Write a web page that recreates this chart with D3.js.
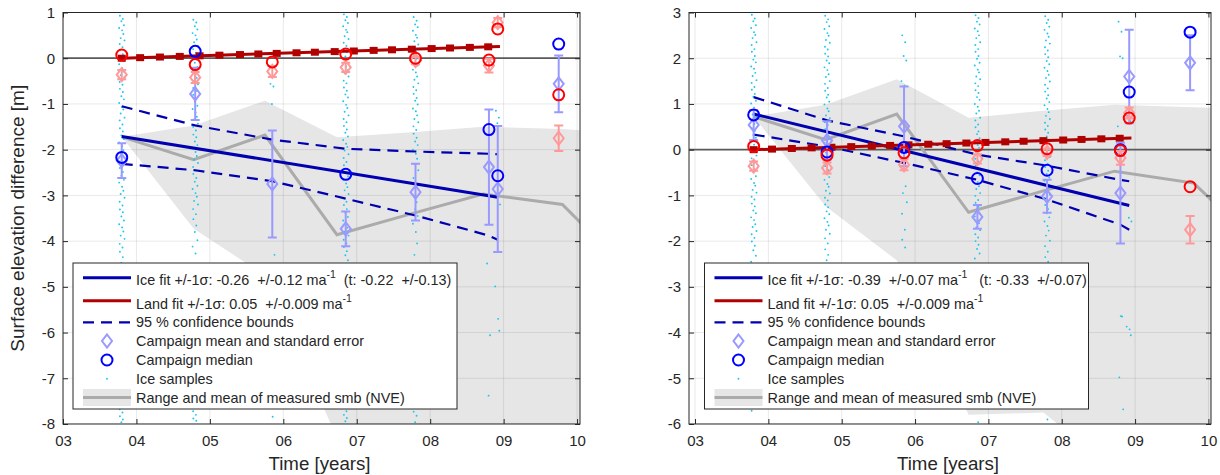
<!DOCTYPE html>
<html><head><meta charset="utf-8">
<script src="https://cdn.jsdelivr.net/npm/d3@7"></script>
<style>
body{margin:0;background:#fff;}
svg text{font-family:"Liberation Sans",Arial,Helvetica,sans-serif;fill:#262626;}
</style></head><body>
<svg id="c" width="1220" height="475"></svg>
<script>
// ---------------- DATA ----------------
const campaignTimes = [3.8, 4.8, 5.85, 6.85, 7.8, 8.8, 8.92, 9.75];
const fitTimes = [3.8, 4.8, 5.85, 6.85, 7.8, 8.8, 8.92];
const xTicks = [3, 4, 5, 6, 7, 8, 9, 10];
const xTickLabels = ["03", "04", "05", "06", "07", "08", "09", "10"];
const landMarkerTimes = [3.8, 4.05, 4.32, 4.59, 4.86, 5.13, 5.41, 5.66, 5.91, 6.18, 6.43, 6.70, 6.96, 7.23, 7.48, 7.75, 8.02, 8.27, 8.54, 8.79];
const sampleJitter = [-0.025, 0.015, -0.005, 0.03, -0.035, 0.005, 0.022, -0.015, 0.038, -0.028, 0.01];
const smbTimes = [3.8, 4.78, 5.75, 6.73, 7.75, 8.72, 9.8, 10.3];

// Left panel
const L_yTicks = [1, 0, -1, -2, -3, -4, -5, -6, -7, -8];
const L_iceMean = [-2.24, -0.78, -2.75, -3.73, -2.93, -2.38, -2.86, -0.56];
const L_iceSE = [0.38, 0.57, 1.17, 0.38, 0.62, 1.26, 1.38, 0.62];
const L_iceMedian = [-2.17, 0.15, null, -2.54, null, -1.56, -2.57, 0.31];
const L_landMean = [-0.36, -0.42, -0.29, -0.2, -0.05, -0.16, 0.78, -1.75];
const L_landSE = [0.1, 0.12, 0.12, 0.1, 0.08, 0.15, 0.1, 0.28];
const L_landMedian = [0.07, -0.14, -0.08, 0.09, 0.0, -0.04, 0.64, -0.8];
const L_iceFit = [-1.71, -3.04];       // at 3.8 and 8.92
const L_landFit = [0.0, 0.05];         // value at 3.8, slope per year
const L_upper = [-1.05, -1.47, -1.78, -1.98, -2.04, -2.09, -2.1];
const L_lower = [-2.31, -2.45, -2.69, -3.07, -3.44, -3.88, -3.97];
const L_smbMean = [-1.72, -2.22, -1.68, -3.86, -3.4, -2.97, -3.2, -4.0];
const L_smbHi = [-1.72, -1.47, -0.93, -1.73, -1.62, -1.5, -1.55, -1.6];
const L_smbLo = [-1.72, -3.73, -4.75, -8.3, -8.2, -9.5, -10, -10.5];
const L_samples = [
  [0.93,0.86,0.81,0.72,0.66,0.61,0.53,0.44,0.39,0.31,0.24,0.18,0.09,0.02,-0.06,-0.13,-0.22,-0.29,-0.37,-0.41,-0.52,-0.58,-0.67,-0.74,-0.83,-0.9,-0.98,-1.07,-1.12,-1.21,-1.3,-1.36,-1.45,-1.53,-1.6,-1.69,-1.77,-1.84,-1.92,-2.01,-2.08,-2.18,-2.26,-2.33,-2.4,-2.49,-2.57,-2.66,-2.72,-2.81,-2.9,-2.97,-3.05,-3.14,-3.22,-3.31,-3.37,-3.46,-3.55,-3.63,-3.7,-3.79,-3.88,-3.95,-4.06,-4.14,-4.23,-4.35,-4.48,-4.9,-5.3,-5.8,-6.4,-6.9,-7.4,-7.68,-7.75,-7.83,-7.9,-7.96],
  [0.84,0.78,0.7,0.63,0.55,0.5,0.41,0.35,0.27,0.2,0.12,0.05,-0.03,-0.1,-0.19,-0.26,-0.34,-0.43,-0.49,-0.57,-0.65,-0.72,-0.8,-0.89,-0.95,-1.04,-1.11,-1.19,-1.28,-1.34,-1.43,-1.5,-1.58,-1.67,-1.73,-1.82,-1.9,-1.97,-2.05,-2.14,-2.22,-2.29,-2.38,-2.46,-2.53,-2.62,-2.7,-2.79,-2.86,-2.95,-3.03,-3.12,-3.2,-3.3,-3.41,-3.52,-3.66,-3.8,-3.98,-4.12,-4.27,-5.1,-6.0,-7.1,-7.72,-7.8,-7.88,-7.93],
  [-0.56,-0.62,-1.0,-4.3,-5.5,-7.84],
  [0.96,0.9,0.83,0.77,0.7,0.62,0.57,0.48,0.42,0.34,0.27,0.19,0.13,0.04,-0.02,-0.11,-0.18,-0.26,-0.33,-0.4,-0.49,-0.55,-0.64,-0.71,-0.79,-0.86,-0.94,-1.02,-1.09,-1.17,-1.25,-1.33,-1.4,-1.48,-1.56,-1.63,-1.71,-1.79,-1.87,-1.94,-2.02,-2.1,-2.18,-2.27,-2.34,-2.42,-2.5,-2.58,-2.65,-2.74,-2.82,-2.89,-2.97,-3.06,-3.14,-3.21,-3.3,-3.38,-3.47,-3.55,-3.62,-3.71,-3.8,-3.88,-3.97,-4.05,-4.13,-4.22,-4.31,-4.42,-4.6,-5.2,-5.9,-6.5,-7.1,-7.6,-7.72,-7.8,-7.87,-7.94],
  [0.9,0.82,0.74,0.68,0.6,0.51,0.45,0.37,0.3,0.21,0.14,0.07,-0.01,-0.09,-0.16,-0.25,-0.31,-0.4,-0.47,-0.55,-0.63,-0.7,-0.78,-0.87,-0.93,-1.01,-1.1,-1.16,-1.25,-1.33,-1.4,-1.49,-1.57,-1.65,-1.74,-1.82,-1.9,-2.0,-2.09,-2.2,-2.31,-2.45,-2.62,-2.8,-3.0,-3.15,-3.3,-3.45,-3.62,-3.8,-4.05,-4.3,-4.55,-6.1,-7.5,-7.73,-7.82,-7.96],
  [-4.49,-6.06,-7.38],
  [-1.15,-1.3,-1.42,-3.2,-4.99,-5.7,-5.96]
];

// Right panel
const R_yTicks = [3, 2, 1, 0, -1, -2, -3, -4, -5, -6];
const R_iceMean = [0.54, 0.2, 0.51, -1.47, -1.02, -0.95, 1.6, 1.9];
const R_iceSE = [0.33, 0.42, 0.87, 0.26, 0.36, 1.1, 1.02, 0.6];
const R_iceMedian = [0.76, -0.05, 0.05, -0.63, -0.45, 0.0, 1.26, 2.57];
const R_landMean = [-0.36, -0.4, -0.33, -0.2, -0.06, -0.18, 0.8, -1.75];
const R_landSE = [0.1, 0.12, 0.12, 0.1, 0.08, 0.15, 0.12, 0.3];
const R_landMedian = [0.07, -0.12, -0.07, 0.09, 0.02, -0.02, 0.69, -0.81];
const R_iceFit = [0.78, -1.22];
const R_landFit = [0.0, 0.05];
const R_upper = [1.15, 0.64, 0.29, -0.11, -0.35, -0.66, -0.69];
const R_lower = [0.33, 0.07, -0.29, -0.66, -1.09, -1.64, -1.75];
const R_smbMean = [0.72, 0.22, 0.78, -1.37, -0.9, -0.47, -0.73, -1.5];
const R_smbHi = [0.72, 0.98, 1.54, 0.7, 0.85, 0.98, 0.93, 0.9];
const R_smbLo = [0.72, -1.24, -2.42, -5.8, -5.75, -7.0, -7.5, -8.0];
const R_samples = [
  [2.95,2.87,2.81,2.72,2.66,2.57,2.51,2.44,2.35,2.29,2.2,2.14,2.05,1.97,1.91,1.82,1.77,1.68,1.61,1.52,1.46,1.37,1.31,1.22,1.16,1.07,1.01,0.92,0.86,0.77,0.71,0.62,0.56,0.47,0.41,0.32,0.26,0.17,0.11,0.02,-0.04,-0.13,-0.19,-0.28,-0.34,-0.43,-0.49,-0.58,-0.64,-0.73,-0.79,-0.88,-0.94,-1.03,-1.09,-1.18,-1.24,-1.33,-1.39,-1.48,-1.54,-1.63,-1.69,-1.78,-1.85,-1.93,-2.01,-2.1,-2.2,-2.32,-2.45,-3.0,-3.8,-4.6,-5.3,-5.71],
  [2.93,2.85,2.79,2.7,2.64,2.55,2.49,2.4,2.34,2.25,2.19,2.1,2.04,1.95,1.89,1.8,1.74,1.65,1.59,1.5,1.44,1.35,1.29,1.2,1.14,1.05,0.99,0.9,0.84,0.75,0.69,0.6,0.54,0.45,0.39,0.3,0.24,0.15,0.09,0.0,-0.06,-0.15,-0.21,-0.3,-0.36,-0.45,-0.51,-0.6,-0.66,-0.75,-0.81,-0.9,-0.96,-1.05,-1.11,-1.2,-1.26,-1.35,-1.41,-1.5,-1.58,-1.66,-1.75,-1.84,-1.94,-2.05,-2.18,-2.3,-2.42,-3.1,-4.2,-5.0,-5.6],
  [2.5,2.35,2.05,1.95,1.5,1.4,-0.8,-0.95,-1.15,-1.4,-1.75,-1.97,-2.14],
  [2.94,2.88,2.8,2.74,2.65,2.59,2.5,2.44,2.35,2.29,2.2,2.14,2.05,1.99,1.9,1.84,1.75,1.69,1.6,1.54,1.45,1.39,1.3,1.24,1.15,1.09,1.0,0.94,0.85,0.79,0.7,0.64,0.55,0.49,0.4,0.34,0.25,0.19,0.1,0.04,-0.05,-0.11,-0.2,-0.26,-0.35,-0.41,-0.5,-0.56,-0.65,-0.71,-0.8,-0.86,-0.95,-1.01,-1.1,-1.16,-1.25,-1.31,-1.4,-1.46,-1.55,-1.61,-1.7,-1.76,-1.85,-1.92,-2.0,-2.08,-2.17,-2.27,-2.38,-2.5,-3.2,-4.0,-4.9,-5.5,-5.96],
  [2.92,2.84,2.77,2.69,2.62,2.54,2.47,2.39,2.32,2.24,2.17,2.09,2.02,1.94,1.87,1.79,1.72,1.64,1.57,1.49,1.42,1.34,1.27,1.19,1.12,1.04,0.97,0.89,0.82,0.74,0.67,0.59,0.52,0.44,0.37,0.29,0.22,0.14,0.07,-0.01,-0.08,-0.16,-0.23,-0.31,-0.38,-0.46,-0.53,-0.61,-0.68,-0.76,-0.83,-0.91,-0.98,-1.06,-1.13,-1.21,-1.3,-1.39,-1.48,-1.57,-1.67,-1.77,-1.88,-1.99,-2.11,-2.23,-2.35,-2.45,-3.3,-4.4,-5.2,-5.9],
  [2.8,2.58,2.04,2.0,0.51,-3.64,-3.65,-4.98,-5.68],
  [0.75,0.62,-1.49,-1.57,-3.87,-3.93,-4.06]
];

// ---------------- DRAW ----------------
const svg = d3.select("#c");
const C = {
  ice: "#0000b0", land: "#b00000", iceMean: "#9999ff", landMean: "#ff9999",
  iceMed: "#0000ff", landMed: "#ff0000", sample: "#1ac6f0", smbFill: "#e6e6e6",
  smbLine: "#ababab", axis: "#262626"
};

function drawPanel(cfg) {
  const g = svg.append("g");
  const x = d3.scaleLinear().domain(cfg.xd).range([cfg.left, cfg.right]);
  const y = d3.scaleLinear().domain(cfg.yd).range([cfg.top, cfg.bottom]);
  const clipId = "clip" + cfg.id;
  svg.append("clipPath").attr("id", clipId).append("rect")
    .attr("x", cfg.left).attr("y", cfg.top)
    .attr("width", cfg.right - cfg.left).attr("height", cfg.bottom - cfg.top);
  const plot = g.append("g").attr("clip-path", `url(#${clipId})`);

  const area = d3.area().x((d, i) => x(smbTimes[i]))
    .y0((d, i) => y(cfg.smbLo[i])).y1((d, i) => y(cfg.smbHi[i]));
  plot.append("path").datum(smbTimes).attr("d", area).attr("fill", C.smbFill);

  xTicks.forEach(t => plot.append("line").attr("x1", x(t)).attr("x2", x(t))
    .attr("y1", cfg.top).attr("y2", cfg.bottom).attr("stroke", "#000").attr("stroke-opacity", 0.09));
  cfg.yTicks.forEach(v => plot.append("line").attr("y1", y(v)).attr("y2", y(v))
    .attr("x1", cfg.left).attr("x2", cfg.right).attr("stroke", "#000").attr("stroke-opacity", 0.09));

  plot.append("line").attr("x1", cfg.left).attr("x2", cfg.right).attr("y1", y(0)).attr("y2", y(0))
    .attr("stroke", "#5a5a5a").attr("stroke-width", 1.8);

  plot.append("path").datum(cfg.smbMean)
    .attr("d", d3.line().x((d, i) => x(smbTimes[i])).y(d => y(d)))
    .attr("fill", "none").attr("stroke", C.smbLine).attr("stroke-width", 3);

  cfg.samples.forEach((col, ci) => {
    col.forEach((v, k) => {
      plot.append("circle").attr("cx", x(campaignTimes[ci] + sampleJitter[k % sampleJitter.length]))
        .attr("cy", y(v)).attr("r", 0.95).attr("fill", C.sample);
    });
  });

  [cfg.upper, cfg.lower].forEach(arr => {
    plot.append("path").datum(arr)
      .attr("d", d3.line().x((d, i) => x(fitTimes[i])).y(d => y(d)))
      .attr("fill", "none").attr("stroke", C.ice).attr("stroke-width", 2.2)
      .attr("stroke-dasharray", "11,7");
  });

  plot.append("line").attr("x1", x(3.8)).attr("x2", x(8.92))
    .attr("y1", y(cfg.iceFit[0])).attr("y2", y(cfg.iceFit[1]))
    .attr("stroke", C.ice).attr("stroke-width", 3);

  const landVal = t => cfg.landFit[0] + cfg.landFit[1] * (t - 3.8);
  plot.append("line").attr("x1", x(3.8)).attr("x2", x(8.95))
    .attr("y1", y(landVal(3.8))).attr("y2", y(landVal(8.95)))
    .attr("stroke", C.land).attr("stroke-width", 3);
  landMarkerTimes.forEach(t => plot.append("rect")
    .attr("x", x(t) - 4).attr("y", y(landVal(t)) - 3.5).attr("width", 8).attr("height", 7)
    .attr("fill", C.land));

  function errorbars(means, ses, color) {
    means.forEach((m, i) => {
      if (m === null) return;
      const cx = x(campaignTimes[i]);
      const y1 = y(m + ses[i]), y2 = y(m - ses[i]);
      plot.append("line").attr("x1", cx).attr("x2", cx).attr("y1", y1).attr("y2", y2)
        .attr("stroke", color).attr("stroke-width", 2);
      [y1, y2].forEach(yy => plot.append("line").attr("x1", cx - 4.5).attr("x2", cx + 4.5)
        .attr("y1", yy).attr("y2", yy).attr("stroke", color).attr("stroke-width", 2));
      const cy = y(m);
      plot.append("path").attr("d", `M${cx},${cy - 6.5}L${cx + 5},${cy}L${cx},${cy + 6.5}L${cx - 5},${cy}Z`)
        .attr("fill", "none").attr("stroke", color).attr("stroke-width", 2);
    });
  }
  function medians(vals, color) {
    vals.forEach((v, i) => {
      if (v === null) return;
      plot.append("circle").attr("cx", x(campaignTimes[i])).attr("cy", y(v)).attr("r", 5.5)
        .attr("fill", "none").attr("stroke", color).attr("stroke-width", 2);
    });
  }
  errorbars(cfg.iceMean, cfg.iceSE, C.iceMean);
  medians(cfg.iceMedian, C.iceMed);
  errorbars(cfg.landMean, cfg.landSE, C.landMean);
  medians(cfg.landMedian, C.landMed);

  const styleAxis = sel => {
    sel.select(".domain").remove();
    sel.selectAll("line").attr("stroke", C.axis);
    sel.selectAll("text").attr("font-size", 15).attr("font-family", null).attr("fill", C.axis);
    sel.attr("font-family", null);
  };
  g.append("g").attr("transform", `translate(0,${cfg.bottom})`)
    .call(d3.axisBottom(x).tickValues(xTicks).tickFormat((d, i) => xTickLabels[i]).tickSize(-5).tickPadding(11)).call(styleAxis);
  g.append("g").attr("transform", `translate(0,${cfg.top})`)
    .call(d3.axisTop(x).tickValues(xTicks).tickFormat("").tickSize(-5)).call(styleAxis);
  g.append("g").attr("transform", `translate(${cfg.left},0)`)
    .call(d3.axisLeft(y).tickValues(cfg.yTicks).tickFormat(d3.format("d")).tickSize(-5).tickPadding(8)).call(styleAxis);
  g.append("g").attr("transform", `translate(${cfg.right},0)`)
    .call(d3.axisRight(y).tickValues(cfg.yTicks).tickFormat("").tickSize(-5)).call(styleAxis);
  g.selectAll(".tick text").text(function () { return this.textContent.replace("−", "-"); });
  g.append("rect").attr("x", cfg.left).attr("y", cfg.top).attr("width", cfg.right - cfg.left)
    .attr("height", cfg.bottom - cfg.top).attr("fill", "none").attr("stroke", C.axis).attr("stroke-width", 1);

  g.append("text").attr("x", (cfg.left + cfg.right) / 2 - 2).attr("y", 470).attr("text-anchor", "middle")
    .attr("font-size", 18.7).text("Time [years]");
  if (cfg.ylabel) {
    g.append("text").attr("transform", `translate(24,${(cfg.top + cfg.bottom) / 2}) rotate(-90)`)
      .attr("text-anchor", "middle").attr("font-size", 19).text(cfg.ylabel);
  }

  const lx = cfg.legendX, ly = 263;
  const lg = g.append("g");
  lg.append("rect").attr("x", lx).attr("y", ly).attr("width", 384).attr("height", 146)
    .attr("fill", "#fff").attr("stroke", C.axis).attr("stroke-width", 1);
  const sx1 = lx + 10, sx2 = lx + 58, scx = lx + 34, tx = lx + 63;
  const rows = [277.7, 300.7, 322.3, 341, 360, 378.8, 397.5];
  lg.append("line").attr("x1", sx1).attr("x2", sx2).attr("y1", rows[0]).attr("y2", rows[0]).attr("stroke", C.ice).attr("stroke-width", 3);
  lg.append("line").attr("x1", sx1).attr("x2", sx2).attr("y1", rows[1]).attr("y2", rows[1]).attr("stroke", C.land).attr("stroke-width", 3);
  lg.append("line").attr("x1", sx1).attr("x2", sx2).attr("y1", rows[2]).attr("y2", rows[2]).attr("stroke", C.ice).attr("stroke-width", 2.2).attr("stroke-dasharray", "11,7");
  lg.append("path").attr("d", `M${scx},${rows[3] - 6.5}L${scx + 5},${rows[3]}L${scx},${rows[3] + 6.5}L${scx - 5},${rows[3]}Z`)
    .attr("fill", "none").attr("stroke", C.iceMean).attr("stroke-width", 2);
  lg.append("circle").attr("cx", scx).attr("cy", rows[4]).attr("r", 5.5).attr("fill", "none").attr("stroke", C.iceMed).attr("stroke-width", 2);
  lg.append("circle").attr("cx", scx).attr("cy", rows[5]).attr("r", 0.95).attr("fill", C.sample);
  lg.append("rect").attr("x", sx1).attr("y", rows[6] - 8.5).attr("width", sx2 - sx1).attr("height", 17).attr("fill", C.smbFill);
  lg.append("line").attr("x1", sx1).attr("x2", sx2).attr("y1", rows[6]).attr("y2", rows[6]).attr("stroke", C.smbLine).attr("stroke-width", 3);

  const fs = 14.4;
  function supText(yb, before, after) {
    const t = lg.append("text").attr("x", tx).attr("y", yb).attr("font-size", fs).style("white-space", "pre");
    t.append("tspan").text(before);
    t.append("tspan").attr("dy", -7).attr("font-size", 10.5).text("-1");
    if (after) t.append("tspan").attr("dy", 7).text(after);
  }
  supText(rows[0] + 7.5, cfg.iceText[0], cfg.iceText[1]);
  supText(rows[1] + 8.5, cfg.landText, null);
  const plain = ["95 % confidence bounds", "Campaign mean and standard error", "Campaign median", "Ice samples", "Range and mean of measured smb (NVE)"];
  plain.forEach((s, i) => lg.append("text").attr("x", tx).attr("y", rows[i + 2] + 5).attr("font-size", fs).text(s));
}

drawPanel({
  id: "L", xd: [3, 10.04], yd: [1, -8], left: 63, right: 580, top: 12.5, bottom: 424,
  yTicks: L_yTicks, iceMean: L_iceMean, iceSE: L_iceSE, iceMedian: L_iceMedian,
  landMean: L_landMean, landSE: L_landSE, landMedian: L_landMedian, iceFit: L_iceFit, landFit: L_landFit,
  upper: L_upper, lower: L_lower, smbMean: L_smbMean, smbHi: L_smbHi, smbLo: L_smbLo, samples: L_samples,
  ylabel: "Surface elevation difference [m]", legendX: 73,
  iceText: ["Ice fit +/-1σ: -0.26  +/-0.12 ma", "  (t: -0.22  +/-0.13)"],
  landText: "Land fit +/-1σ: 0.05  +/-0.009 ma"
});
drawPanel({
  id: "R", xd: [2.918, 10.035], yd: [3, -6], left: 689, right: 1211, top: 12.5, bottom: 424,
  yTicks: R_yTicks, iceMean: R_iceMean, iceSE: R_iceSE, iceMedian: R_iceMedian,
  landMean: R_landMean, landSE: R_landSE, landMedian: R_landMedian, iceFit: R_iceFit, landFit: R_landFit,
  upper: R_upper, lower: R_lower, smbMean: R_smbMean, smbHi: R_smbHi, smbLo: R_smbLo, samples: R_samples,
  ylabel: null, legendX: 704.5,
  iceText: ["Ice fit +/-1σ: -0.39  +/-0.07 ma", "   (t: -0.33  +/-0.07)"],
  landText: "Land fit +/-1σ: 0.05  +/-0.009 ma"
});
</script>
</body></html>
